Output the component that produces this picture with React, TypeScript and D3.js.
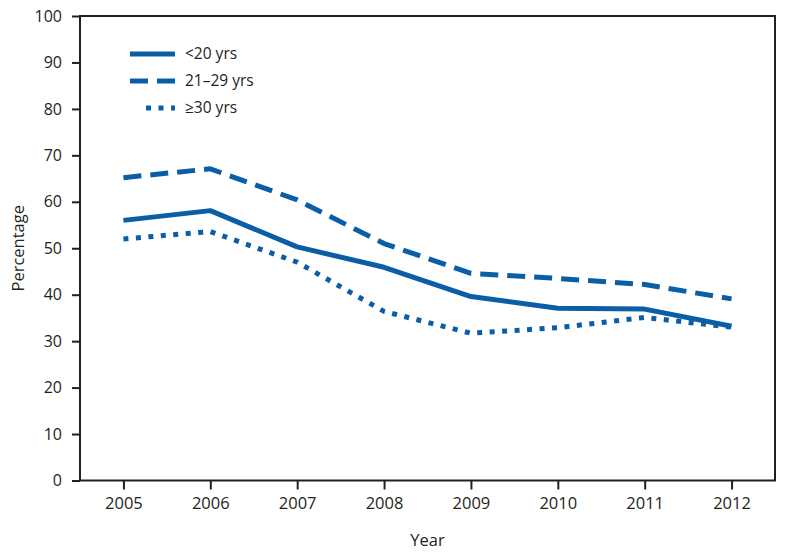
import React, { useEffect, useRef } from 'react';
import * as d3 from 'd3';

// chart data
const years = ['2005', '2006', '2007', '2008', '2009', '2010', '2011', '2012'];
const under20 = [56, 58.1, 50.3, 45.9, 39.6, 37.1, 36.9, 33.2];
const age21to29 = [65.2, 67.1, 60.4, 51, 44.6, 43.5, 42.2, 39.1];
const age30plus = [52, 53.6, 47, 36.4, 31.7, 32.9, 35.1, 33];
const yTicks = [0, 10, 20, 30, 40, 50, 60, 70, 80, 90, 100];
const seriesNames = ['<20 yrs', '21–29 yrs', '≥30 yrs'];

const App = () => {
  const svgRef = useRef<SVGSVGElement>(null);

  useEffect(() => {
    const width = 786;
    const height = 556;
    const left = 80, right = 775, top = 16, bottom = 480.5;
    const blue = '#0a5ea6';
    const ink = '#231f20';
    const font = '"Open Sans", sans-serif';

    const svg = d3.select(svgRef.current)
      .attr('width', width)
      .attr('height', height);
    svg.selectAll('*').remove();

    const x = d3.scalePoint<string>()
      .domain(years)
      .range([left, right])
      .padding(0.5);

    const y = d3.scaleLinear()
      .domain([0, 100])
      .range([bottom, top]);

    // frame
    svg.append('rect')
      .attr('x', left)
      .attr('y', top)
      .attr('width', right - left)
      .attr('height', bottom - top)
      .attr('fill', 'none')
      .attr('stroke', ink)
      .attr('stroke-width', 2);

    // y axis
    const yAxis = svg.append('g')
      .attr('transform', `translate(${left},0)`)
      .call(d3.axisLeft(y).tickValues(yTicks).tickSize(8).tickPadding(10));
    yAxis.select('.domain').remove();
    yAxis.selectAll('line').attr('stroke', ink).attr('stroke-width', 2);
    yAxis.selectAll('text')
      .attr('font-family', font)
      .attr('font-size', 16)
      .attr('fill', ink);

    // x axis
    const xAxis = svg.append('g')
      .attr('transform', `translate(0,${bottom})`)
      .call(d3.axisBottom(x).tickSize(9).tickPadding(8));
    xAxis.select('.domain').remove();
    xAxis.selectAll('line').attr('stroke', ink).attr('stroke-width', 2);
    xAxis.selectAll('text')
      .attr('font-family', font)
      .attr('font-size', 16.5)
      .attr('fill', ink);

    // axis titles
    svg.append('text')
      .attr('transform', `translate(24,${(top + bottom) / 2}) rotate(-90)`)
      .attr('text-anchor', 'middle')
      .attr('font-family', font)
      .attr('font-size', 16.5)
      .attr('fill', ink)
      .text('Percentage');

    svg.append('text')
      .attr('x', (left + right) / 2)
      .attr('y', 546)
      .attr('text-anchor', 'middle')
      .attr('font-family', font)
      .attr('font-size', 16.5)
      .attr('fill', ink)
      .text('Year');

    const series = [
      { name: seriesNames[0], values: under20, dash: null },
      { name: seriesNames[1], values: age21to29, dash: '18,9' },
      { name: seriesNames[2], values: age30plus, dash: '5,7.5' },
    ];

    const line = d3.line<number>()
      .x((_, i) => x(years[i]) as number)
      .y(d => y(d));

    series.forEach(s => {
      svg.append('path')
        .datum(s.values)
        .attr('d', line)
        .attr('fill', 'none')
        .attr('stroke', blue)
        .attr('stroke-width', 5)
        .attr('stroke-linejoin', 'round')
        .attr('stroke-dasharray', s.dash);
    });

    // legend
    const legend = svg.append('g');
    series.forEach((s, i) => {
      const ly = 54 + i * 27;
      legend.append('line')
        .attr('x1', i === 2 ? 146 : 130)
        .attr('x2', 175)
        .attr('y1', ly)
        .attr('y2', ly)
        .attr('stroke', blue)
        .attr('stroke-width', 5)
        .attr('stroke-dasharray', s.dash);
      legend.append('text')
        .attr('x', 185)
        .attr('y', ly + 5)
        .attr('font-family', font)
        .attr('font-size', 15.5)
        .attr('fill', ink)
        .text(s.name);
    });
  }, []);

  return <svg ref={svgRef} style={{ position: 'absolute', left: 0, top: 0 }}></svg>;
};

export default App;
